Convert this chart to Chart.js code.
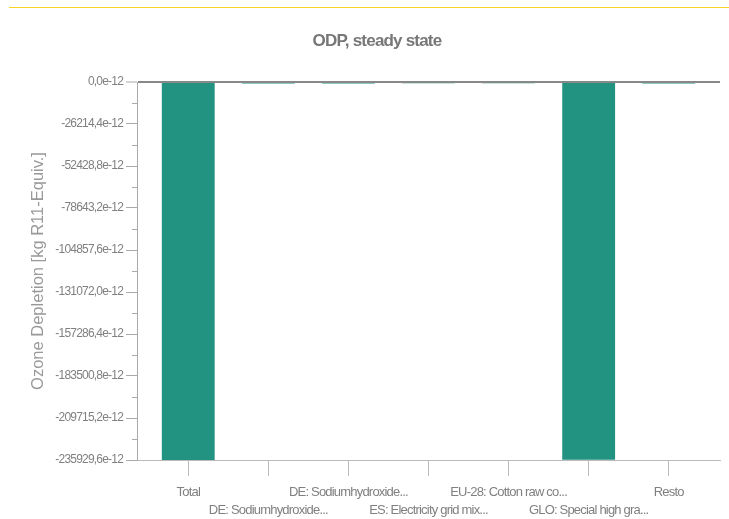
<!DOCTYPE html>
<html><head><meta charset="utf-8">
<script src="https://cdn.jsdelivr.net/npm/chart.js@4.4.1/dist/chart.umd.min.js"></script>
<style>
html,body{margin:0;padding:0;background:#fff;overflow:hidden}
#wrap{position:relative;width:729px;height:519px}
#rule{position:absolute;left:9px;right:0;top:7px;height:1px;background:#f5d327}
</style></head><body>
<div id="wrap"><canvas id="c"></canvas><div id="rule"></div></div>
<script>
// values in units of 1e-12 kg R11-Equiv.
const categories = ['Total', 'DE: Sodiumhydroxide...', 'DE: Sodiumhydroxide...', 'ES: Electricity grid mix...', 'EU-28: Cotton raw co...', 'GLO: Special high gra...', 'Resto'];
const odpValues = [-235929.6, -900, -900, -800, -800, -235700, -900];
const yTickValues = [0, -26214.4, -52428.8, -78643.2, -104857.6, -131072.0, -157286.4, -183500.8, -209715.2, -235929.6];
const chartTitle = 'ODP, steady state';
const yAxisTitle = 'Ozone Depletion [kg R11-Equiv.]';

const FONT = "'Liberation Sans', Arial, sans-serif";

const styling = {
  id: 'styling',
  beforeLayout(chart) {
    chart.ctx.letterSpacing = '-0.8px';
    const s = chart.scales.y;
    if (s && !s._lsPatched) {
      const orig = s.drawTitle;
      s.drawTitle = function () {
        const ctx = this.ctx;
        ctx.save();
        ctx.letterSpacing = '0px';
        orig.call(this);
        ctx.restore();
      };
      s._lsPatched = true;
    }
  },
  beforeDraw(chart) {
    chart.ctx.letterSpacing = '-0.8px';
  },
  afterDraw(chart) {
    const y = chart.scales.y;
    const ctx = chart.ctx;
    ctx.save();
    ctx.strokeStyle = '#aaa';
    ctx.lineWidth = 1;
    for (let i = 0; i < yTickValues.length - 1; i++) {
      const v = (yTickValues[i] + yTickValues[i + 1]) / 2;
      const py = Math.round(y.getPixelForValue(v)) + 0.5;
      ctx.beginPath();
      ctx.moveTo(y.right - 5, py);
      ctx.lineTo(y.right, py);
      ctx.stroke();
    }
    ctx.restore();
  }
};

new Chart(document.getElementById('c'), {
  type: 'bar',
  data: {
    datasets: [{
      data: odpValues.map((v, i) => ({ x: i, y: v })),
      backgroundColor: '#229281',
      borderWidth: 0,
      barPercentage: 0.66,
      categoryPercentage: 1
    }]
  },
  options: {
    responsive: true,
    maintainAspectRatio: false,
    animation: false,
    layout: { padding: { left: 34, right: 9, top: 0, bottom: 0 } },
    plugins: {
      legend: { display: false },
      tooltip: { enabled: false },
      title: {
        display: true, text: chartTitle, color: '#777',
        font: { family: FONT, size: 17, weight: 'bold' },
        padding: { top: 31.5, bottom: 30.1 }
      }
    },
    scales: {
      x: {
        type: 'linear', min: -0.64, max: 6.64, offset: false,
        afterFit(s) { s.height = 59; },
        afterBuildTicks(s) { s.ticks = categories.map((c, i) => ({ value: i })); },
        grid: { offset: false, drawOnChartArea: false, tickLength: 16, tickColor: '#bbb', color: '#bbb' },
        border: { color: '#bbb', width: 1 },
        ticks: {
          autoSkip: false, maxRotation: 0, minRotation: 0, padding: 8, color: '#808080',
          font: { family: FONT, size: 13, lineHeight: 1.35 },
          callback: (v) => (v % 2 === 0 ? [categories[v]] : ['', categories[v]])
        }
      },
      y: {
        min: -235929.6, max: 0,
        afterFit(s) { s.width = 103; },
        afterBuildTicks(s) { s.ticks = yTickValues.map(v => ({ value: v })); },
        grid: {
          color: c => (c.tick && c.tick.value === 0 ? '#888' : 'rgba(0,0,0,0)'),
          lineWidth: c => (c.tick && c.tick.value === 0 ? 2 : 1),
          tickColor: '#aaa', tickLength: 11, tickWidth: 1
        },
        border: { color: '#aaa', width: 1 },
        ticks: {
          padding: 3, color: '#808080',
          font: { family: FONT, size: 12 },
          callback: v => v.toFixed(1).replace('.', ',') + 'e-12'
        },
        title: {
          display: true, text: yAxisTitle, color: '#999',
          font: { family: FONT, size: 16.5 },
          padding: { top: -5.6, bottom: 0 }
        }
      }
    }
  },
  plugins: [styling]
});
</script>
</body></html>
